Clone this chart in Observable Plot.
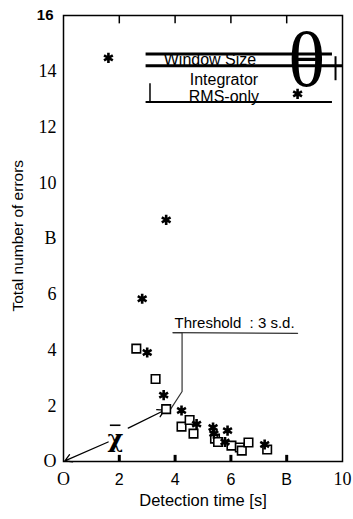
<!DOCTYPE html>
<html>
<head>
<meta charset="utf-8">
<script src="https://cdn.jsdelivr.net/npm/d3@7"></script>
<script src="https://cdn.jsdelivr.net/npm/@observablehq/plot@0.6"></script>
<style>
  html, body { margin: 0; padding: 0; background: #fff; }
  #chart svg { display: block; }
</style>
</head>
<body>
<div id="chart"></div>
<script>
// ---- data ----
const squareX = [2.61, 3.30, 3.68, 4.23, 4.52, 4.66, 5.43, 5.54, 6.02, 6.32, 6.39, 6.63, 7.30];
const squareY = [4.05, 2.96, 1.88, 1.25, 1.49, 1.00, 0.82, 0.70, 0.57, 0.50, 0.39, 0.68, 0.43];
const starX = [1.61, 3.68, 2.82, 3.00, 3.59, 4.23, 4.77, 5.36, 5.39, 5.88, 5.79, 7.21];
const starY = [14.48, 8.67, 5.84, 3.91, 2.38, 1.83, 1.34, 1.22, 1.00, 1.11, 0.70, 0.61];

const xTickValues = [0, 2, 4, 6, 8, 10];
const xTickLabels = ["O", "2", "4", "6", "B", "10"];
const yTickValues = [0, 2, 4, 6, 8, 10, 12, 14, 16];
const yTickLabels = ["O", "2", "4", "6", "B", "10", "12", "14", "16"];

const legendTexts = ["Window Size", "Integrator", "RMS-only"];
const thresholdText = "Threshold  : 3 s.d.";
const xTitle = "Detection time [s]";
const yTitle = "Total number of errors";

// annotation geometry (data coordinates)
const legendLines = [
  {y: 14.62, x1: 2.96, x2: 9.64, w: 3},
  {y: 14.20, x1: 2.96, x2: 10.0, w: 3},
  {y: 12.90, x1: 2.96, x2: 9.64, w: 2}
];
const legendTextPos = [{x: 5.25, y: 14.41}, {x: 5.75, y: 13.69}, {x: 5.75, y: 13.08}];
const legendStar = {x: 8.39, y: 13.19};
const thresholdPath = [{x: 3.93, y: 4.62}, {x: 4.25, y: 4.62}, {x: 4.25, y: 2.51}, {x: 3.84, y: 1.88}];
const thresholdUnder = [{x: 3.93, y: 4.62}, {x: 8.39, y: 4.60}];

const squares = squareX.map((x, i) => ({x, y: squareY[i]}));
const stars = starX.map((x, i) => ({x, y: starY[i]}));
const xt = xTickValues.map((v, i) => ({v, label: xTickLabels[i]}));
const yt = yTickValues.map((v, i) => ({v, label: yTickLabels[i]}));
const xtSerif = xt.filter((d, i) => i === 0 || i === xt.length - 1);
const xtSans = xt.filter((d, i) => i !== 0 && i !== xt.length - 1);
const ytSerif = yt.slice(0, -1);
const ytTop = yt.slice(-1);
const innerX = xTickValues.slice(1, -1);

const serif = "Liberation Serif, Times New Roman, serif";
const sans = "Liberation Sans, Arial, sans-serif";

const chart = Plot.plot({
  width: 353,
  height: 519,
  marginLeft: 63,
  marginRight: 11,
  marginTop: 15,
  marginBottom: 58,
  x: {type: "linear", domain: [0, 10], axis: null},
  y: {type: "linear", domain: [0, 16], axis: null},
  marks: [
    Plot.frame({stroke: "black", strokeWidth: 1.5}),
    // bottom ticks (inward)
    Plot.ruleX(innerX, {x: d => d, y1: () => 0, y2: () => 0.22, stroke: "black", strokeWidth: 3}),
    // top ticks (inward)
    Plot.ruleX(innerX, {x: d => d, y1: () => 16, y2: () => 15.7, stroke: "black", strokeWidth: 1.5}),
    // x tick labels
    Plot.text(xtSerif, {x: "v", y: () => 0, text: "label", dy: 18, fontSize: 18, fontFamily: serif, fill: "black"}),
    Plot.text(xtSans, {x: "v", y: () => 0, text: "label", dy: 18, fontSize: 16, fontFamily: sans, fill: "black"}),
    // y tick labels
    Plot.text(ytSerif, {x: () => 0, y: "v", text: "label", dx: -7, textAnchor: "end", fontSize: 18, fontFamily: serif, fill: "black"}),
    Plot.text(ytTop, {x: () => 0, y: "v", text: "label", dx: -10, textAnchor: "end", fontSize: 15, fontWeight: "bold", fontFamily: sans, fill: "black"}),
    // axis titles
    Plot.text([xTitle], {frameAnchor: "bottom", dy: 44, fontSize: 16.5, fontFamily: sans, fill: "black", text: d => d}),
    Plot.text([yTitle], {x: () => -1.62, y: () => 8.1, rotate: -90, fontSize: 15.5, fontFamily: sans, fill: "black", text: d => d}),
    // legend block
    Plot.text(legendTexts, {
      x: (d, i) => legendTextPos[i].x, y: (d, i) => legendTextPos[i].y,
      text: d => d, fontSize: 16, fontFamily: sans, fill: "black"
    }),
    Plot.ruleY(legendLines, {y: "y", x1: "x1", x2: "x2", strokeWidth: "w", stroke: "black"}),
    Plot.ruleX([3.1], {x: d => d, y1: () => 12.9, y2: () => 13.55, stroke: "black", strokeWidth: 1.5}),
    Plot.text(["θ"], {x: () => 8.72, y: () => 14.35, text: d => d, fontSize: 78, fontFamily: serif, fill: "black"}),
    Plot.ruleX([9.75], {x: d => d, y1: () => 13.66, y2: () => 14.52, stroke: "black", strokeWidth: 2}),
    Plot.dot([legendStar], {x: "x", y: "y", symbol: "asterisk", r: 4.8, stroke: "black", strokeWidth: 2.6}),
    // threshold annotation
    Plot.line(thresholdPath, {x: "x", y: "y", stroke: "#333", strokeWidth: 1.2}),
    Plot.line(thresholdUnder, {x: "x", y: "y", stroke: "#333", strokeWidth: 1.2}),
    Plot.text([thresholdText], {x: () => 3.98, y: () => 4.62, dy: -10, textAnchor: "start", text: d => d, fontSize: 15, fontFamily: sans, fill: "black"}),
    // chi-bar annotation
    Plot.arrow([{x1: 2.32, y1: 1.20, x2: 3.62, y2: 1.84}, {x1: 1.60, y1: 0.70, x2: 0.05, y2: 0.02}], {
      x1: "x1", y1: "y1", x2: "x2", y2: "y2", stroke: "black", strokeWidth: 1.3, headLength: 9
    }),
    Plot.text(["χ"], {x: () => 1.86, y: () => 0.80, text: d => d, fontSize: 24, fontWeight: "bold", fontFamily: "DejaVu Serif, serif", fill: "black"}),
    Plot.ruleY([1.3], {y: d => d, x1: () => 1.68, x2: () => 2.06, stroke: "black", strokeWidth: 1.6}),
    // data
    Plot.dot(squares, {x: "x", y: "y", symbol: "square", r: 4.8, fill: "white", stroke: "black", strokeWidth: 1.6}),
    Plot.dot(stars, {x: "x", y: "y", symbol: "asterisk", r: 4.8, stroke: "black", strokeWidth: 2.6})
  ]
});
document.getElementById("chart").appendChild(chart);
</script>
</body>
</html>
